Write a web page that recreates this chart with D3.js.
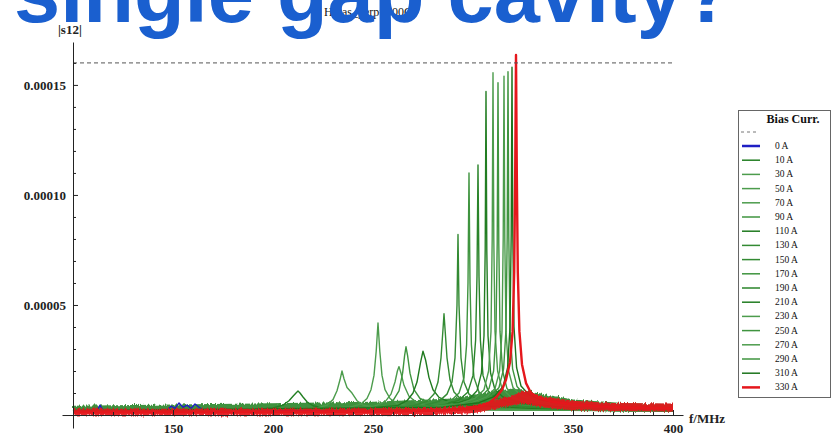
<!DOCTYPE html>
<html>
<head>
<meta charset="utf-8">
<script src="https://cdn.jsdelivr.net/npm/d3@7"></script>
<style>
  html, body { margin: 0; padding: 0; background: #fff; }
  svg { display: block; }
  .tick text { font-family: "Liberation Serif", "DejaVu Serif", serif; font-weight: bold; font-size: 13px; fill: #222; }
  .tick line { stroke: #222; }
</style>
</head>
<body>
<svg id="chart" width="832" height="442">
  <defs>
    <!-- grainy edge for the measured noise floor -->
    <filter id="fuzz" x="-2%" y="-60%" width="104%" height="220%">
      <feTurbulence type="fractalNoise" baseFrequency="0.7 0.08" numOctaves="2" seed="3" result="t"/>
      <feDisplacementMap in="SourceGraphic" in2="t" scale="5" xChannelSelector="R" yChannelSelector="G"/>
    </filter>
  </defs>
</svg>
<script>
// |s12| transmission vs frequency for each bias current (values in units of 1e-5)
const UNIT = 1e-5;
const currents = [0, 10, 30, 50, 70, 90, 110, 130, 150, 170, 190, 210, 230, 250, 270, 290, 310, 330];

const s0A = [[100,0.15],[108,0.2],[112,0.18],[113.5,0.45],[115,0.2],[130,0.2],[147,0.22],[149,0.4],[151,0.3],[153,0.55],[155,0.35],[157,0.45],[159,0.3],[161,0.5],[163,0.35],[165,0.25],[175,0.2],[200,0.2],[250,0.25],[300,0.3],[400,0.2]];
const s10A = [[100,0.2],[150,0.22],[190,0.25],[200,0.32],[205,0.45],[208,0.65],[210,0.85],[211.5,1.0],[212.5,1.09],[213.5,1.0],[215,0.82],[217,0.6],[220,0.42],[225,0.32],[240,0.27],[280,0.25],[330,0.22],[400,0.18]];
const s30A = [[100,0.2],[200,0.25],[222,0.32],[227,0.45],[230,0.7],[232,1.1],[233.5,1.6],[234.5,2.0],[235.5,1.65],[237,1.25],[239.5,1.0],[242,0.65],[245,0.45],[252,0.35],[270,0.28],[300,0.25],[400,0.2]];
const s50A = [[100,0.2],[220,0.27],[238,0.35],[244,0.5],[247,0.75],[249,1.15],[250.5,1.8],[251.6,2.9],[252.5,4.18],[253.4,2.9],[254.5,1.8],[256,1.15],[258.5,0.75],[262,0.52],[268,0.4],[285,0.3],[330,0.25],[400,0.2]];
const s70A = [[100,0.2],[235,0.27],[250,0.38],[256,0.6],[259,0.95],[261,1.5],[262.2,2.0],[263,2.2],[264,1.9],[265.5,1.35],[268,0.85],[272,0.55],[280,0.4],[300,0.3],[400,0.2]];
const s90A = [[100,0.2],[240,0.28],[255,0.4],[260,0.65],[263,1.1],[264.8,1.9],[265.8,2.7],[266.5,3.1],[267.3,2.7],[268.5,1.9],[270.5,1.15],[273.5,0.75],[280,0.5],[292,0.38],[330,0.28],[400,0.2]];
const s110A = [[100,0.2],[245,0.3],[262,0.42],[267,0.65],[270,1.0],[272,1.5],[273.8,2.4],[275,2.9],[276.3,2.5],[278,1.7],[280,1.15],[283,0.8],[288,0.6],[298,0.45],[330,0.3],[400,0.2]];
const s130A = [[100,0.2],[250,0.3],[270,0.42],[277,0.62],[280.5,0.95],[282.5,1.5],[284,2.6],[285,3.9],[285.5,4.6],[286.1,3.8],[287,2.6],[288.5,1.6],[290.5,1.05],[294,0.72],[300,0.55],[312,0.42],[340,0.3],[400,0.22]];
const s150A = [[100,0.2],[255,0.3],[275,0.42],[283,0.62],[287,0.95],[289.5,1.5],[291,2.6],[292,5.0],[292.5,8.2],[293,5.0],[294,2.6],[295.5,1.5],[298,0.95],[302,0.7],[310,0.52],[325,0.4],[360,0.28],[400,0.22]];
const s170A = [[100,0.2],[260,0.3],[280,0.45],[289,0.65],[293,1.0],[295.5,1.7],[296.8,3.2],[297.5,6.0],[298,11.0],[298.5,6.0],[299.2,3.2],[300.5,1.7],[303,1.05],[307,0.75],[315,0.55],[330,0.42],[360,0.3],[400,0.22]];
const s190A = [[100,0.2],[265,0.3],[285,0.45],[293,0.68],[297.5,1.05],[300,1.8],[301.3,3.4],[302,6.3],[302.5,11.36],[303,6.3],[303.7,3.4],[305,1.8],[307.5,1.1],[311,0.8],[318,0.58],[335,0.42],[365,0.3],[400,0.23]];
const s210A = [[100,0.2],[270,0.32],[290,0.48],[298,0.72],[302,1.1],[304.2,1.9],[305.5,3.6],[306.1,7.5],[306.5,14.7],[306.9,7.5],[307.5,3.6],[308.8,1.9],[311,1.15],[315,0.82],[322,0.6],[340,0.42],[370,0.3],[400,0.24]];
const s230A = [[100,0.2],[270,0.32],[293,0.5],[301,0.75],[305.5,1.15],[307.8,2.0],[309,3.8],[309.6,8.0],[310,15.55],[310.4,8.0],[311,3.8],[312.3,2.0],[314.5,1.2],[318.5,0.85],[325,0.62],[342,0.44],[372,0.3],[400,0.25]];
const s250A = [[100,0.2],[275,0.33],[296,0.52],[303.5,0.78],[308,1.2],[310.3,2.0],[311.5,3.8],[312.1,7.8],[312.5,15.1],[312.9,7.8],[313.5,3.8],[314.8,2.0],[317,1.2],[321,0.85],[328,0.62],[345,0.45],[375,0.3],[400,0.25]];
const s270A = [[100,0.2],[280,0.34],[299,0.55],[306.5,0.8],[311,1.2],[313.3,2.0],[314.5,3.8],[315.1,8.0],[315.5,15.4],[315.9,8.0],[316.5,3.8],[317.8,2.0],[320,1.25],[324,0.88],[331,0.65],[348,0.46],[378,0.32],[400,0.26]];
const s290A = [[100,0.2],[282,0.35],[301,0.55],[308.5,0.82],[313,1.25],[315.3,2.1],[316.5,3.9],[317.1,8.1],[317.5,15.6],[317.9,8.1],[318.5,3.9],[319.8,2.1],[322,1.3],[326,0.9],[333,0.66],[350,0.46],[380,0.32],[400,0.26]];
const s310A = [[100,0.2],[285,0.35],[303,0.56],[310.5,0.84],[315,1.28],[317.3,2.15],[318.5,4.0],[319.1,8.2],[319.5,15.8],[319.9,8.2],[320.5,4.0],[321.8,2.15],[324,1.32],[328,0.92],[335,0.67],[352,0.47],[382,0.33],[400,0.27]];
const s330A = [[100,0.12],[200,0.13],[260,0.16],[285,0.2],[297,0.28],[304,0.4],[308.5,0.58],[312,0.85],[314.5,1.15],[316.5,1.6],[318.5,2.4],[319.8,3.8],[320.6,6.5],[321.1,11],[321.5,16.36],[321.9,11],[322.4,6.5],[323.2,3.8],[324.5,2.3],[326.5,1.45],[329,1.0],[333,0.78],[340,0.6],[350,0.48],[365,0.38],[380,0.33],[400,0.3]];

// noise floor envelopes: [f, low, high]
const greenFloor = [[100,0.1,0.42],[170,0.12,0.5],[250,0.15,0.6],[290,0.2,0.75],[305,0.3,1.0],[320,0.35,1.2],[335,0.3,0.95],[350,0.2,0.7],[375,0.15,0.55],[400,0.15,0.5]];
const redFloor = [[100,-0.02,0.28],[200,-0.02,0.28],[280,0.0,0.32],[300,0.08,0.42],[312,0.3,0.7],[320,0.45,0.9],[326,0.55,1.1],[334,0.35,0.85],[350,0.22,0.65],[370,0.18,0.55],[400,0.16,0.52]];

const refLevel = 16;   // dashed reference level (1e-5)

const series = [s0A, s10A, s30A, s50A, s70A, s90A, s110A, s130A, s150A, s170A, s190A, s210A, s230A, s250A, s270A, s290A, s310A, s330A];
const colors = ["#1f1fc4",
  "#237f23", "#4c9c4c", "#4c9c4c", "#4c9c4c", "#3f943f", "#1f7a1f", "#338a33", "#338a33",
  "#3f943f", "#2a842a", "#227d22", "#4c9c4c", "#3f943f", "#4c9c4c", "#3f943f", "#1c741c",
  "#e5171c"];

const svg = d3.select("#chart");

const x = d3.scaleLinear().domain([94.5, 405]).range([62, 683]);
const y = d3.scaleLinear().domain([-0.59, 16.95]).range([428, 42]);

// plot label
svg.append("text")
  .attr("x", 324).attr("y", 16)
  .attr("font-family", "Liberation Serif, serif").attr("font-size", 12)
  .attr("fill", "#111")
  .text("Hbias_perp=500G");

// noise floors
const band = d3.area().x(d => x(d[0])).y0(d => y(d[1])).y1(d => y(d[2]));
svg.append("path").datum(greenFloor).attr("d", band).attr("fill", "#2a862a")
  .attr("opacity", 0.9).attr("filter", "url(#fuzz)");

// curves
const line = d3.line().x(d => x(d[0])).y(d => y(d[1]));
const g = svg.append("g");
series.forEach((s, i) => {
  const last = i === series.length - 1;
  if (last) {
    g.append("path").datum(redFloor).attr("d", band).attr("fill", "#e5171c")
      .attr("opacity", 0.92).attr("filter", "url(#fuzz)");
  }
  g.append("path").datum(s).attr("d", line)
    .attr("fill", "none").attr("stroke", colors[i])
    .attr("stroke-width", last ? 2.4 : 1.4)
    .attr("stroke-linejoin", "round");
});

// dashed reference
svg.append("line")
  .attr("x1", x(100)).attr("x2", x(400))
  .attr("y1", y(refLevel)).attr("y2", y(refLevel))
  .attr("stroke", "#555").attr("stroke-width", 1).attr("stroke-dasharray", "4,3");

// axes
const xAxis = svg.append("g").attr("transform", `translate(0,${y(0)})`)
  .call(d3.axisBottom(x).tickValues([150, 200, 250, 300, 350, 400]).tickSize(-5).tickSizeOuter(0).tickPadding(9));
svg.append("g").attr("transform", `translate(0,${y(0)})`)
  .call(d3.axisBottom(x).tickValues(d3.range(110, 401, 10).filter(v => v % 50 !== 0)).tickSize(-3).tickSizeOuter(0).tickFormat(""))
  .select(".domain").remove();
xAxis.select(".domain").attr("stroke", "#222");

const yAxis = svg.append("g").attr("transform", `translate(${x(100)},0)`)
  .call(d3.axisLeft(y).tickValues([5, 10, 15]).tickSize(-5).tickSizeOuter(0).tickPadding(7)
    .tickFormat(v => d3.format(".5f")(v * UNIT)));
svg.append("g").attr("transform", `translate(${x(100)},0)`)
  .call(d3.axisLeft(y).tickValues(d3.range(1, 17, 1).filter(v => v % 5 !== 0)).tickSize(-3).tickSizeOuter(0).tickFormat(""))
  .select(".domain").remove();
yAxis.select(".domain").attr("stroke", "#222");

// axis titles
svg.append("text").attr("x", 689).attr("y", 423)
  .attr("font-family", "Liberation Serif, serif").attr("font-weight", "bold").attr("font-size", 13)
  .attr("fill", "#222").text("f/MHz");

// legend
const lg = svg.append("g");
lg.append("rect").attr("x", 738.5).attr("y", 110.5).attr("width", 92).attr("height", 287)
  .attr("fill", "#fff").attr("stroke", "#666");
lg.append("text").attr("x", 793).attr("y", 123).attr("text-anchor", "middle")
  .attr("font-family", "Liberation Serif, serif").attr("font-weight", "bold").attr("font-size", 12)
  .attr("fill", "#111").text("Bias Curr.");
lg.append("line").attr("x1", 741).attr("x2", 757).attr("y1", 132).attr("y2", 132)
  .attr("stroke", "#777").attr("stroke-dasharray", "3,3");
currents.forEach((c, i) => {
  const yy = 146 + i * 14.2;
  lg.append("line").attr("x1", 742).attr("x2", 760).attr("y1", yy).attr("y2", yy)
    .attr("stroke", colors[i]).attr("stroke-width", i === 0 || i === currents.length - 1 ? 2.5 : 1.5);
  lg.append("text").attr("x", 775).attr("y", yy + 3)
    .attr("font-family", "Liberation Serif, serif").attr("font-size", 9.5)
    .attr("fill", "#111").text(`${c} A`);
});

// heading
svg.append("text").attr("x", 14).attr("y", 22)
  .attr("font-family", "Liberation Sans, Arial, sans-serif").attr("font-weight", "bold").attr("font-size", 83)
  .attr("fill", "#1a5fcf").text("single gap cavity?");

// y axis title
svg.append("text").attr("x", 58).attr("y", 34)
  .attr("font-family", "Liberation Serif, serif").attr("font-weight", "bold").attr("font-size", 13)
  .attr("fill", "#222").text("|s12|");
</script>
</body>
</html>
